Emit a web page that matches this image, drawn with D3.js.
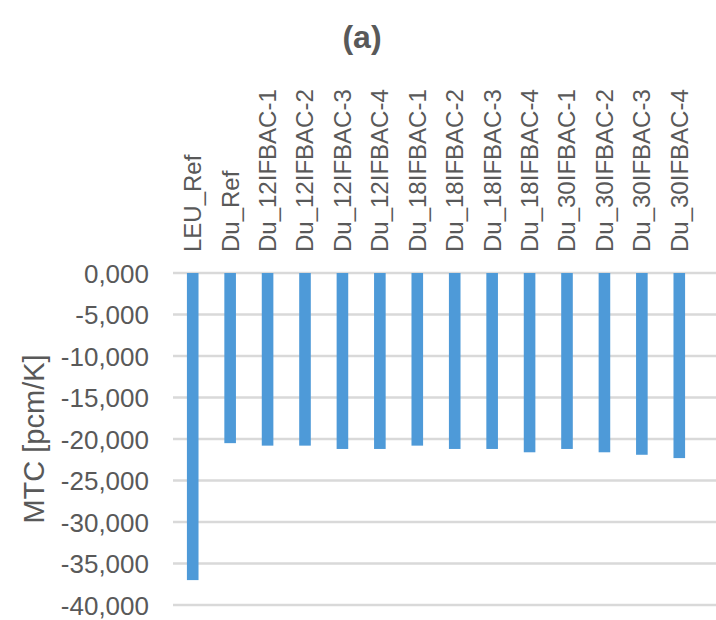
<!DOCTYPE html>
<html>
<head>
<meta charset="utf-8">
<script src="https://cdn.jsdelivr.net/npm/d3@7"></script>
<style>
  html, body { margin: 0; padding: 0; background: #fff; }
  svg { display: block; }
  text { font-family: "Liberation Sans", Arial, sans-serif; fill: #595959; }
</style>
</head>
<body>
<div id="chart"></div>
<script>
// Moderator temperature coefficient per fuel configuration
const categories = [
  "LEU_Ref", "Du_Ref",
  "Du_12IFBAC-1", "Du_12IFBAC-2", "Du_12IFBAC-3", "Du_12IFBAC-4",
  "Du_18IFBAC-1", "Du_18IFBAC-2", "Du_18IFBAC-3", "Du_18IFBAC-4",
  "Du_30IFBAC-1", "Du_30IFBAC-2", "Du_30IFBAC-3", "Du_30IFBAC-4"
];
const mtcValues = [
  -37.0, -20.5,
  -20.8, -20.8, -21.2, -21.2,
  -20.8, -21.2, -21.2, -21.6,
  -21.2, -21.6, -21.9, -22.3
];
const yTicks = [0, -5, -10, -15, -20, -25, -30, -35, -40];
const titleText = "(a)";
const yTitle = "MTC [pcm/K]";

const W = 716, H = 620;
const plot = { left: 174, right: 698, top: 273, bottom: 605 };

const svg = d3.select("#chart").append("svg")
  .attr("width", W).attr("height", H);

const x = d3.scaleBand()
  .domain(categories)
  .range([plot.left, plot.right])
  .paddingInner(0.69)
  .paddingOuter(0.345);

const y = d3.scaleLinear()
  .domain([0, -40])
  .range([plot.top, plot.bottom]);

const fmt = v => d3.format(".3f")(v).replace(".", ",").replace("\u2212", "-");

// horizontal gridlines
svg.append("g")
  .selectAll("line")
  .data(yTicks)
  .join("line")
  .attr("x1", plot.left - 1)
  .attr("x2", W)
  .attr("y1", d => y(d))
  .attr("y2", d => y(d))
  .attr("stroke", "#d9d9d9")
  .attr("stroke-width", 2.5);

// y axis tick labels
const yAxis = d3.axisLeft(y).tickValues(yTicks).tickFormat(fmt).tickSize(0).tickPadding(0);
const gy = svg.append("g")
  .attr("transform", `translate(149,0)`)
  .call(yAxis);
gy.select(".domain").remove();
gy.selectAll("text")
  .attr("font-size", 26)
  .attr("font-family", "'Liberation Sans', Arial, sans-serif")
  .attr("fill", "#595959")
  .attr("dy", "0.35em");

// bars hanging down from zero
svg.append("g")
  .selectAll("rect")
  .data(categories.map((c, i) => ({ c, v: mtcValues[i] })))
  .join("rect")
  .attr("x", d => x(d.c))
  .attr("width", x.bandwidth())
  .attr("y", y(0))
  .attr("height", d => y(d.v) - y(0))
  .attr("fill", "#4e9ad8");

// rotated category labels above the plot
svg.append("g")
  .selectAll("text")
  .data(categories)
  .join("text")
  .attr("transform", d => `translate(${x(d) + x.bandwidth() / 2},252) rotate(-90)`)
  .attr("text-anchor", "start")
  .attr("dy", "0.35em")
  .attr("font-size", 24)
  .text(d => d);

// y axis title
svg.append("text")
  .attr("transform", `translate(34,${(plot.top + plot.bottom) / 2}) rotate(-90)`)
  .attr("text-anchor", "middle")
  .attr("dy", "0.35em")
  .attr("font-size", 29)
  .text(yTitle);

// chart title
svg.append("text")
  .attr("x", 362)
  .attr("y", 48)
  .attr("text-anchor", "middle")
  .attr("font-size", 32)
  .attr("font-weight", "bold")
  .text(titleText);
</script>
</body>
</html>
